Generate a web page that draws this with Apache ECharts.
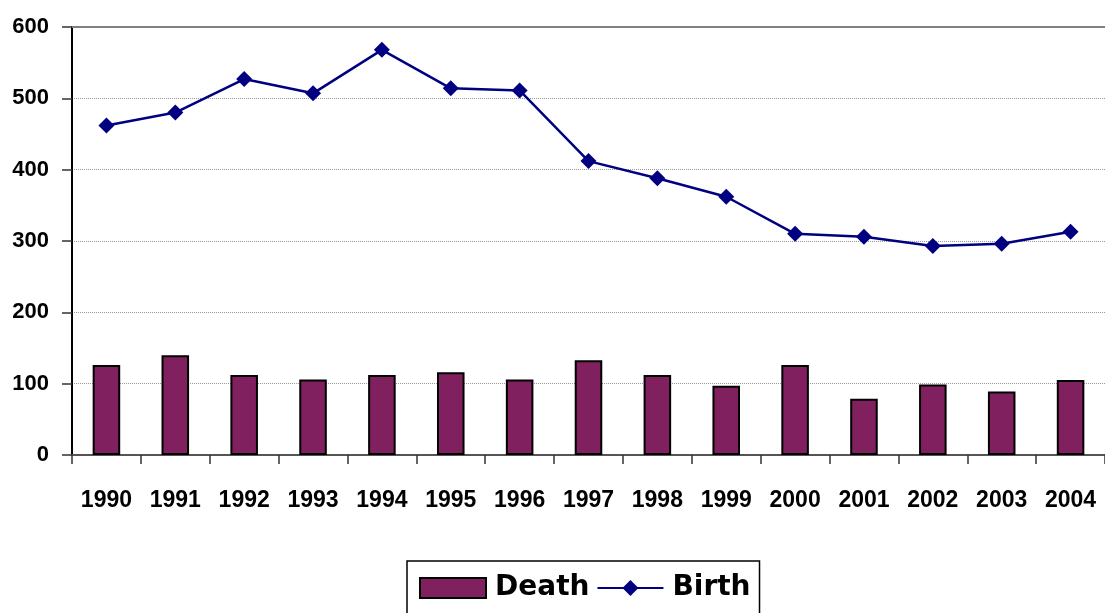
<!DOCTYPE html>
<html>
<head>
<meta charset="utf-8">
<script src="https://cdn.jsdelivr.net/npm/echarts@6/dist/echarts.min.js"></script>
<style>
html,body{margin:0;padding:0;background:#fff;}
#chart{width:1105px;height:613px;}
</style>
</head>
<body>
<div id="chart"></div>
<script>
var years = ['1990','1991','1992','1993','1994','1995','1996','1997','1998','1999','2000','2001','2002','2003','2004'];
var death = [126, 140, 112, 106, 112, 116, 106, 133, 112, 97, 126, 79, 99, 89, 105];
var birth = [462, 480, 527, 507, 568, 514, 511, 412, 388, 362, 310, 306, 293, 296, 313];
var yTicks = [0, 100, 200, 300, 400, 500, 600];

var chart = echarts.init(document.getElementById('chart'), null, {renderer: 'canvas'});
chart.setOption({
  animation: false,
  backgroundColor: '#ffffff',
  grid: {left: 72, right: -5, top: 27, bottom: 158, containLabel: false},
  legend: {
    left: 407, top: 561,
    orient: 'horizontal',
    borderColor: '#000', borderWidth: 1.5,
    padding: [13, 9, 30, 12],
    itemGap: 7,
    itemWidth: 66, itemHeight: 20,
    textStyle: {fontFamily: 'DejaVu Sans', fontWeight: 'bold', fontSize: 28, color: '#000', padding: [0, 0, 0, 4]},
    data: [{name: 'Death', icon: 'rect'}, {name: 'Birth'}]
  },
  xAxis: {
    type: 'category',
    data: years,
    boundaryGap: true,
    axisLine: {lineStyle: {color: '#555', width: 2}},
    axisTick: {show: true, length: 9, interval: 0, lineStyle: {color: '#333', width: 1.5}},
    axisLabel: {interval: 0, fontFamily: '"Liberation Sans", Arial, sans-serif', fontWeight: 'bold', fontSize: 23, color: '#000', margin: 34}
  },
  yAxis: {
    type: 'value',
    min: 0, max: 600, interval: 100,
    axisLine: {show: true, lineStyle: {color: '#000', width: 2}},
    axisTick: {show: true, length: 10, lineStyle: {color: '#333', width: 1.5}},
    axisLabel: {fontFamily: '"Liberation Sans", Arial, sans-serif', fontWeight: 'bold', fontSize: 22, color: '#000', margin: 23,
      formatter: function (v) { return yTicks.indexOf(v) >= 0 ? String(v) : ''; }},
    splitLine: {show: true, lineStyle: {color: '#999', type: [1, 1], width: 1}}
  },
  series: [
    {
      name: 'Death',
      type: 'bar',
      data: death,
      barWidth: '40%',
      itemStyle: {color: '#80205f', borderColor: '#000', borderWidth: 2}
    },
    {
      name: 'Birth',
      type: 'line',
      data: birth,
      symbol: 'diamond',
      symbolSize: 16,
      lineStyle: {color: '#000080', width: 2.5},
      itemStyle: {color: '#000080'},
      markLine: {
        silent: true, symbol: 'none', label: {show: false},
        lineStyle: {color: '#808080', type: 'solid', width: 2},
        data: [{yAxis: 600}]
      }
    }
  ]
});
</script>
</body>
</html>
